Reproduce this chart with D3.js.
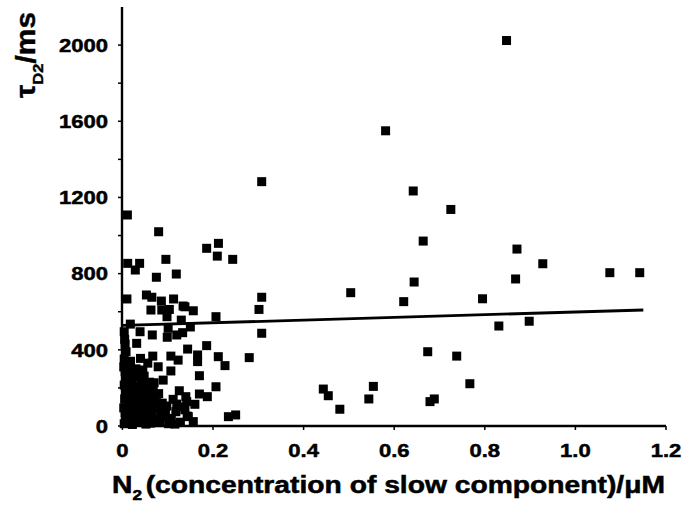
<!DOCTYPE html>
<html>
<head>
<meta charset="utf-8">
<script src="https://cdn.jsdelivr.net/npm/d3@7"></script>
<style>
  html, body { margin: 0; padding: 0; background: #fff; }
  svg { display: block; }
  text { font-family: "Liberation Sans", Arial, sans-serif; font-weight: bold; fill: #000; }
</style>
</head>
<body>
<svg id="chart" width="682" height="506"></svg>
<script>
// ---- data ----
const n2 = [
  0.848, 0.581, 0.642, 0.725, 0.3075, 0.011,
  0.504, 0.664, 0.644, 0.621, 0.871, 0.928, 0.868, 0.795, 0.831, 0.898, 1.076, 1.142,
  0.674, 0.738, 0.767, 0.4435, 0.4545, 0.480, 0.544, 0.554, 0.679, 0.6885,
  0.186, 0.212, 0.2095, 0.2435, 0.3075, 0.3015, 0.1565, 0.138, 0.2066, 0.3075,
  0.280, 0.186, 0.166, 0.166, 0.2117, 0.2265, 0.144, 0.170, 0.2066, 0.170, 0.1875,
  0.142, 0.160, 0.234, 0.250, 0.1455, 0.1565, 0.150,
  0.080, 0.096, 0.0117, 0.0285, 0.038, 0.075, 0.119, 0.010, 0.053, 0.065, 0.086,
  0.113, 0.063, 0.087, 0.1036, 0.134, 0.0985, 0.130, 0.0175,
  0.004, 0.039, 0.066, 0.099, 0.120, 0.101, 0.133, 0.0315, 0.008, 0.067, 0.107,
  0.123, 0.079, 0.107, 0.045, 0.070, 0.090, 0.1256, 0.140, 0.118, 0.143, 0.076,
  0.090, 0.061,
  0.004, 0.012, 0.006, 0.013, 0.005, 0.011, 0.004, 0.012, 0.006, 0.010, 0.004, 0.005,
  0.022, 0.027, 0.019, 0.026, 0.021, 0.028, 0.020, 0.025, 0.018,
  0.037, 0.042, 0.036, 0.044, 0.038, 0.041, 0.035, 0.040,
  0.052, 0.057, 0.050, 0.058, 0.053, 0.055, 0.048, 0.056,
  0.066, 0.071, 0.064, 0.068, 0.082, 0.085, 0.080,
  0.102, 0.098, 0.108, 0.112, 0.128, 0.131,
  0.008, 0.017, 0.003, 0.016, 0.009, 0.017, 0.008, 0.016, 0.009, 0.003, 0.006,
  0.031, 0.047, 0.033, 0.046, 0.031, 0.047, 0.032, 0.045, 0.030,
  0.062, 0.060, 0.075, 0.072, 0.088, 0.095, 0.116, 0.120, 0.138, 0.060
];
const tauD2 = [
  2024, 1550, 1234, 1137, 1283, 1108,
  700, 971, 756, 653, 929, 852, 772, 668, 525, 550, 805, 805,
  390, 367, 222, 194, 159, 88, 142, 208, 128, 142,
  933, 959, 892, 875, 676, 612, 605, 626, 574, 487,
  359, 422, 373, 338, 364, 317, 404, 264, 206, 168, 154,
  128, 114, 49, 58, 49, 23, 520,
  1020, 875, 854, 819, 854, 781, 798, 667, 688, 676, 656,
  667, 609, 609, 612, 630, 574, 556, 535,
  495, 495, 478, 466, 478, 513, 490, 434, 390, 367, 367,
  346, 311, 289, 294, 227, 241, 185, 154, 75, 52, 122,
  49, 31,
  12, 38, 70, 104, 142, 176, 215, 248, 285, 322, 352, 455,
  8, 55, 90, 128, 160, 198, 232, 270, 340,
  22, 75, 112, 150, 185, 220, 258, 355,
  10, 48, 88, 135, 170, 205, 262, 330,
  62, 95, 150, 190, 18, 80, 170,
  12, 105, 40, 140, 20, 100,
  25, 65, 95, 120, 160, 195, 230, 300, 265, 310, 430,
  40, 30, 90, 110, 165, 190, 210, 240, 300,
  15, 105, 35, 140, 120, 70, 10, 115, 85, 230
];
// linear fit line (end points)
const fitX = [0.0, 1.15];
const fitY = [528, 609];

const xTicks = [0, 0.2, 0.4, 0.6, 0.8, 1.0, 1.2];
const xTickLabels = ["0", "0.2", "0.4", "0.6", "0.8", "1.0", "1.2"];
const yTicks = [0, 200, 400, 600, 800, 1000, 1200, 1400, 1600, 1800, 2000];
const yLabelled = [0, 400, 800, 1200, 1600, 2000];

const xTitleMain = "N";
const xTitleSub = "2";
const xTitleRest = "(concentration of slow component)/μM";
const yTitleMain = "τ";
const yTitleSub = "D2";
const yTitleRest = "/ms";

// ---- chart ----
const svg = d3.select("#chart");
const x = d3.scaleLinear().domain([0, 1.2]).range([122.4, 666]);
const y = d3.scaleLinear().domain([0, 2200]).range([426, 7]);
const stretch = 1.16;

// points
svg.append("g").selectAll("rect")
  .data(n2.map((v, i) => [v, tauD2[i]]))
  .join("rect")
  .attr("x", d => x(d[0]) - 4.5)
  .attr("y", d => y(d[1]) - 4.5)
  .attr("width", 9)
  .attr("height", 9)
  .attr("fill", "#000");

// fit line
svg.append("path")
  .datum(fitX.map((v, i) => [v, fitY[i]]))
  .attr("d", d3.line().x(d => x(d[0])).y(d => y(d[1])))
  .attr("fill", "none")
  .attr("stroke", "#000")
  .attr("stroke-width", 2.8);

// y axis
const yAxis = svg.append("g")
  .attr("transform", "translate(122,0)")
  .call(d3.axisLeft(y).tickValues(yTicks).tickSize(4).tickSizeOuter(0).offset(0)
    .tickFormat(d => yLabelled.includes(d) ? String(d) : ""));
yAxis.select(".domain").attr("stroke-width", 2.4);
yAxis.selectAll(".tick line").attr("stroke-width", 1.5);
yAxis.selectAll(".tick text")
  .attr("font-size", 19)
  .attr("x", -14 / stretch)
  .attr("dy", "0.36em")
  .attr("transform", `scale(${stretch},1)`);

// x axis
const xAxis = svg.append("g")
  .attr("transform", "translate(0,426)")
  .call(d3.axisBottom(x).tickValues(xTicks).tickSize(4).tickSizeOuter(0).offset(0)
    .tickFormat((d, i) => xTickLabels[i]));
xAxis.select(".domain").attr("stroke-width", 2.4);
xAxis.selectAll(".tick line").attr("stroke-width", 1.5);
xAxis.selectAll(".tick text")
  .attr("font-size", 19)
  .attr("y", 31)
  .attr("dy", 0)
  .attr("transform", `scale(${stretch},1)`);
svg.selectAll(".tick text")
  .attr("font-family", "Liberation Sans, Arial, sans-serif")
  .attr("font-weight", "bold")
  .attr("stroke", "#000").attr("stroke-width", 0.5);

// x title
const xt = svg.append("text")
  .attr("x", 112)
  .attr("y", 493)
  .attr("font-size", 23)
  .attr("stroke", "#000").attr("stroke-width", 0.5)
  .attr("textLength", 553)
  .attr("lengthAdjust", "spacingAndGlyphs");
xt.append("tspan").text(xTitleMain);
xt.append("tspan").attr("font-size", 14).attr("dy", 7).text(xTitleSub);
xt.append("tspan").attr("dy", -7).attr("dx", 3).text(xTitleRest);

// y title
const yt = svg.append("text")
  .attr("transform", "translate(35,98) rotate(-90)")
  .attr("font-size", 27)
  .attr("stroke", "#000").attr("stroke-width", 0.4)
  .attr("textLength", 86)
  .attr("lengthAdjust", "spacingAndGlyphs");
yt.append("tspan").text(yTitleMain);
yt.append("tspan").attr("font-size", 15).attr("dy", 8).text(yTitleSub);
yt.append("tspan").attr("dy", -8).text(yTitleRest);
</script>
</body>
</html>
